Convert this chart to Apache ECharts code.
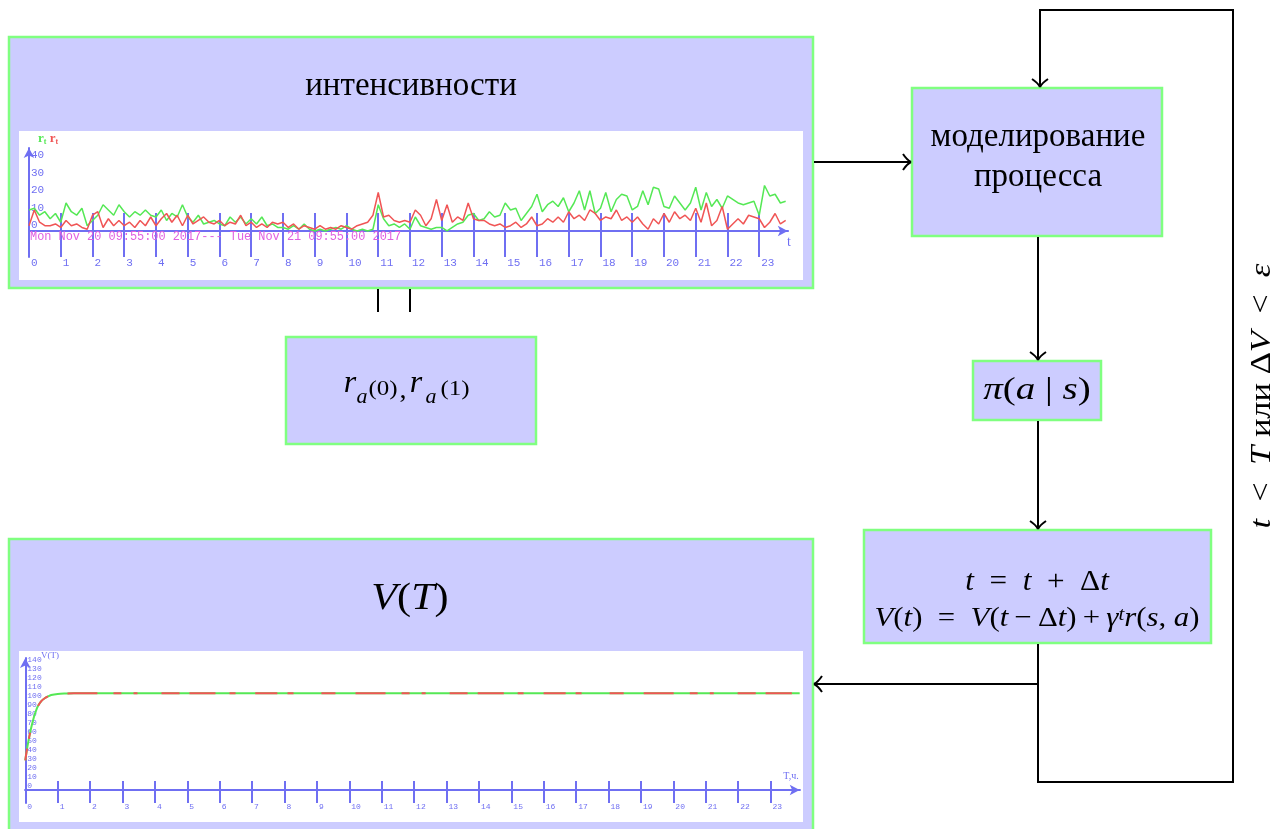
<!DOCTYPE html>
<html><head><meta charset="utf-8">
<script src="https://cdn.jsdelivr.net/npm/echarts@6/dist/echarts.min.js"></script>
<style>html,body{margin:0;padding:0;background:#fff}#c{width:1286px;height:829px}</style>
</head><body><div id="c"></div>
<script>
// ---- data ----
const hourTicks = [0,1,2,3,4,5,6,7,8,9,10,11,12,13,14,15,16,17,18,19,20,21,22,23];
const rLabels = [0,10,20,30,40];
const vLabels = [0,10,20,30,40,50,60,70,80,90,100,110,120,130,140];
const samplesPerHour = 6;
const greenR = [
 12,13,9,11,7,10,  5,16,11,9,13,3,  6,9,15,12,9,15,  11,8,11,9,12,9,
 8,12,6,10,8,15,   8,5,9,4,5,6,     4,3,8,5,8,4,     7,4,8,3,4,2,
 2,1,3,1,4,1,      0,1,0,1,2,1,     3,1,0,1,0,1,     15,7,3,4,2,4,
 1,8,3,2,1,2,      2,0,2,4,5,9,     10,6,7,11,8,9,   16,12,13,6,10,14,
 21,11,15,17,14,19, 11,16,23,12,23,10, 13,22,11,18,21,20, 12,14,23,15,25,24,
 14,13,20,16,12,16, 25,12,22,14,18,13, 20,18,16,15,16,17, 9,26,20,21,16,17
];
const redR = [
 3,12,5,3,3,4,   2,6,3,4,2,1,    9,11,2,7,3,6,   3,5,2,6,3,8,
 3,7,10,5,9,3,   9,4,6,8,5,4,    6,3,5,4,9,3,    5,2,4,2,5,4,
 5,2,4,1,3,2,    1,3,1,2,1,3,    2,1,3,4,5,9,    22,8,9,6,5,6,
 5,12,9,3,7,18,  6,15,5,8,6,16,  7,6,6,4,3,4,    2,3,5,2,4,8,
 3,4,7,5,8,5,    11,7,9,6,12,10, 6,8,7,12,6,8,   5,8,4,1,7,4,
 10,5,11,7,9,6,  13,5,16,3,6,14, 1,4,7,4,9,8,    7,2,5,10,4,6
];
const vTimes  = [0, 0.05, 0.1, 0.15, 0.2, 0.25, 0.3, 0.35, 0.4, 0.5, 0.6, 0.7, 0.8, 1.0, 1.25, 1.5, 2, 23.9];
const vValues = [33, 45, 55, 64, 72, 79, 85, 90, 94, 99, 102, 104, 105.5, 106.7, 107.2, 107.5, 107.5, 107.5];
const dateText = 'Mon Nov 20 09:55:00 2017--- Tue Nov 21 09:55:00 2017';

// ---- helpers ----
const BLUE = '#6f6ff2', GREEN = '#55e855', RED = '#f05555', PINK = '#e060e0';
const BOXF = '#ccccff', BOXS = '#80ff80';
const SERIF = "'Liberation Serif','DejaVu Serif',serif";
const MONO = "'Liberation Mono','DejaVu Sans Mono',monospace";
const pairs = (arr) => arr.map((v, i) => [i / samplesPerHour, v]);
const vPairs = vTimes.map((t, i) => [t, vValues[i]]);

function xAxes(grid, yIdx, yIdx2, max, downLen, upLen, fontSize, margin) {
  const common = {type: 'value', gridIndex: grid, min: 0, max: max, splitLine: {show: false}};
  return [
    Object.assign({}, common, {position: 'bottom',
      axisLine: {show: true, onZero: true, onZeroAxisIndex: yIdx, lineStyle: {color: BLUE, width: 2}, symbol: ['none', 'arrow'], symbolSize: [8, 10]},
      axisTick: {show: true, inside: false, length: downLen, customValues: hourTicks, lineStyle: {color: BLUE, width: 2}},
      axisLabel: {show: true, customValues: hourTicks, margin: margin, align: 'left', padding: [0,0,0,2], verticalAlign: 'top',
        color: BLUE, fontFamily: MONO, fontSize: fontSize}}),
    Object.assign({}, common, {position: 'top',
      axisLine: {show: true, onZero: true, onZeroAxisIndex: yIdx2, lineStyle: {color: BLUE, width: 2}},
      axisTick: {show: true, inside: false, length: upLen, customValues: hourTicks, lineStyle: {color: BLUE, width: 2}},
      axisLabel: {show: false}})
  ];
}
function yAxis(grid, min, max, labels, fontSize, hidden) {
  return {type: 'value', gridIndex: grid, min: min, max: max, show: !hidden, position: hidden ? 'right' : 'left',
    splitLine: {show: false},
    axisLine: {show: true, onZero: true, lineStyle: {color: BLUE, width: 2}, symbol: ['none', 'arrow'], symbolSize: [8, 10]},
    axisTick: {show: false},
    axisLabel: {show: true, inside: true, customValues: labels, margin: 2, verticalAlign: 'bottom',
      color: BLUE, fontFamily: MONO, fontSize: fontSize}};
}

const rect = (x, y, w, h, fill, stroke, z) => ({type: 'rect', z: z, silent: true,
  shape: {x: x, y: y, width: w, height: h},
  style: stroke ? {fill: fill, stroke: stroke, lineWidth: 2.5} : {fill: fill}});
const line = (pts) => ({type: 'polyline', z: 5, silent: true, shape: {points: pts},
  style: {stroke: '#000', lineWidth: 2, fill: null}});
const bez = (x1, y1, cx, cy, x2, y2) => ({type: 'bezierCurve', z: 5, silent: true,
  shape: {x1: x1, y1: y1, cpx1: cx, cpy1: cy, x2: x2, y2: y2}, style: {stroke: '#000', lineWidth: 2, fill: null}});
const headRight = (x, y) => [bez(x - 8, y - 8, x - 4, y - 2, x, y), bez(x - 8, y + 8, x - 4, y + 2, x, y)];
const headLeft = (x, y) => [bez(x + 8, y - 8, x + 4, y - 2, x, y), bez(x + 8, y + 8, x + 4, y + 2, x, y)];
const headDown = (x, y) => [bez(x - 8, y - 8, x - 2, y - 4, x, y), bez(x + 8, y - 8, x + 2, y - 4, x, y)];
const txt = (x, y, text, size, sx, extra) => Object.assign({type: 'text', z: 10, silent: true, x: x, y: y, scaleX: sx || 1,
  style: {text: text, fill: '#000', font: size + 'px ' + SERIF, fontFamily: SERIF, fontSize: size,
    textAlign: 'center', textVerticalAlign: 'middle', align: 'center', verticalAlign: 'middle', rich: itRich(size)}}, extra || {});
const itRich = (size) => ({i: {fontFamily: SERIF, fontSize: size, fontStyle: 'italic', fill: '#000'},
  n: {fontFamily: SERIF, fontSize: size, fill: '#000'},
  sup: {fontFamily: SERIF, fontSize: Math.round(size * 0.68), fontStyle: 'italic', verticalAlign: 'top', fill: '#000'}});
const TS = '\u2009';

const graphics = [
  rect(9, 37, 804, 251, BOXF, BOXS, -5),
  rect(19, 131, 784, 149, '#ffffff', null, -4),
  rect(912, 88, 250, 148, BOXF, BOXS, -5),
  rect(973, 361, 128, 59, BOXF, BOXS, -5),
  rect(864, 530, 347, 113, BOXF, BOXS, -5),
  rect(286, 337, 250, 107, BOXF, BOXS, -5),
  rect(9, 539, 804, 300, BOXF, BOXS, -5),
  rect(19, 651, 784, 171, '#ffffff', null, -4),

  line([[814, 162], [910, 162]]),
  ...headRight(911, 162),
  line([[1038, 237], [1038, 359]]),
  ...headDown(1038, 360),
  line([[1038, 421], [1038, 528]]),
  ...headDown(1038, 529),
  line([[1038, 644], [1038, 782], [1233, 782], [1233, 10], [1040, 10], [1040, 86]]),
  ...headDown(1040, 87),
  line([[1038, 684], [815, 684]]),
  ...headLeft(814, 684),
  line([[378, 289], [378, 312]]),
  line([[410, 289], [410, 312]]),

  txt(411, 86, '{n|интенсивности}', 33),
  txt(1038, 137, '{n|моделирование}', 33),
  txt(1038, 177, '{n|процесса}', 33),
  txt(1037, 391, '{i|π}{n|(}{i|a}{n| | }{i|s}{n|)}', 32, 1.22),
  txt(1037, 582, '{i|t}{n|  =  }{i|t}{n|  +  Δ}{i|t}', 30, 1.04),
  txt(1037, 619, '{i|V}{n|(}{i|t}{n|)  =  }{i|V}{n|(}{i|t}{n|' + TS + '−' + TS + 'Δ}{i|t}{n|)' + TS + '+' + TS + '}{i|γ}{sup|t}{i|r}{n|(}{i|s}{n|, }{i|a}{n|)}', 28, 1.1),
  txt(410, 599, '{i|V}{n|(}{i|T}{n|)}', 38, 1.11),
  txt(1262, 396, '{i|t}{n|  <  }{i|T}{n| или Δ}{i|V}{n|  <  }{i|ε}', 30, 1.15, {rotation: Math.PI / 2}),

  // r_{a^{(0)}}, r_{a^{(1)}}
  txt(350, 384, '{i|r}', 32),
  txt(362, 397, '{i|a}', 22),
  txt(383, 390, '{n|(0)}', 20, 1.25),
  txt(403, 391, '{n|,}', 28),
  txt(416, 384, '{i|r}', 32),
  txt(431, 397, '{i|a}', 22),
  txt(455, 390, '{n|(1)}', 20, 1.25),

  // mini-chart annotations
  {type: 'text', z: 10, silent: true, x: 30, y: 237, style: {text: dateText, fill: PINK, font: '11.9px ' + MONO,
    textAlign: 'left', textVerticalAlign: 'middle', align: 'left', verticalAlign: 'middle'}},
  {type: 'text', z: 10, silent: true, x: 789, y: 242, style: {text: 't', fill: BLUE, font: '14px ' + SERIF,
    textAlign: 'center', textVerticalAlign: 'middle', align: 'center', verticalAlign: 'middle'}},
  {type: 'text', z: 10, silent: true, x: 38, y: 139, style: {text: '{g|r}{gs|t} {r|r}{rs|t}', align: 'left', verticalAlign: 'middle',
    textAlign: 'left', textVerticalAlign: 'middle',
    rich: {g: {fontFamily: SERIF, fontSize: 13, fontWeight: 'bold', fill: GREEN},
           gs: {fontFamily: SERIF, fontSize: 8, fontWeight: 'bold', fill: GREEN, verticalAlign: 'bottom'},
           r: {fontFamily: SERIF, fontSize: 13, fontWeight: 'bold', fill: RED},
           rs: {fontFamily: SERIF, fontSize: 8, fontWeight: 'bold', fill: RED, verticalAlign: 'bottom'}}}},
  {type: 'text', z: 10, silent: true, x: 50, y: 656, style: {text: 'V(T)', fill: BLUE, font: '9px ' + SERIF,
    textAlign: 'center', textVerticalAlign: 'middle', align: 'center', verticalAlign: 'middle'}},
  {type: 'text', z: 10, silent: true, x: 791, y: 776, style: {text: 'T,ч.', fill: BLUE, font: '10px ' + SERIF,
    textAlign: 'center', textVerticalAlign: 'middle', align: 'center', verticalAlign: 'middle'}}
];

const xa = xAxes(0, 0, 2, 23.9, 26, 18, 11, 1).concat(xAxes(1, 1, 3, 23.9, 13, 9, 8, 0));
const option = {
  animation: false,
  backgroundColor: '#ffffff',
  grid: [
    {left: 29, top: 148, width: 758.8, height: 109, containLabel: false, outerBoundsMode: 'none'},
    {left: 25.3, top: 658, width: 774.4, height: 145, containLabel: false, outerBoundsMode: 'none'}
  ],
  xAxis: xa,
  yAxis: [yAxis(0, -14.86, 47.43, rLabels, 11), yAxis(1, -14.44, 146.7, vLabels, 8),
          yAxis(0, -14.86, 47.43, rLabels, 11, true), yAxis(1, -14.44, 146.7, vLabels, 8, true)],
  series: [
    {type: 'line', xAxisIndex: 0, yAxisIndex: 0, data: pairs(greenR), showSymbol: false, symbol: 'none',
      lineStyle: {color: GREEN, width: 1.5}, z: 3},
    {type: 'line', xAxisIndex: 0, yAxisIndex: 0, data: pairs(redR), showSymbol: false, symbol: 'none',
      lineStyle: {color: RED, width: 1.5}, z: 4},
    {type: 'line', xAxisIndex: 2, yAxisIndex: 1, data: vPairs, showSymbol: false, symbol: 'none', smooth: 0.3,
      lineStyle: {color: GREEN, width: 2}, z: 3},
    {type: 'line', xAxisIndex: 2, yAxisIndex: 1, data: vPairs, showSymbol: false, symbol: 'none', smooth: 0.3,
      lineStyle: {color: RED, width: 2, type: [22, 10, 6, 28, 14, 20, 30, 16, 8, 12, 4, 24, 18, 10, 26, 14, 6, 20], dashOffset: 10}, z: 4}
  ],
  graphic: {elements: graphics}
};
const chart = echarts.init(document.getElementById('c'));
chart.setOption(option);
</script></body></html>
